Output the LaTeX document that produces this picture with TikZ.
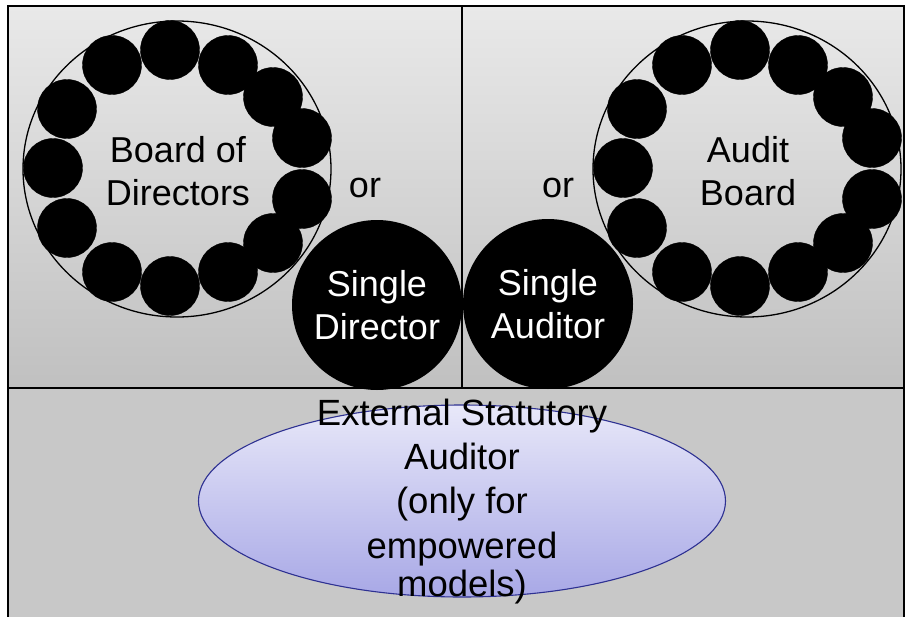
\documentclass[tikz,border=0pt]{standalone}
\usepackage{fontspec}
\setmainfont{Liberation Sans}
\usetikzlibrary{shapes.geometric}
\definecolor{ptop}{HTML}{E9E9E9}
\definecolor{pbot}{HTML}{C0C0C0}
\definecolor{bpanel}{HTML}{C8C8C8}
\definecolor{elltop}{HTML}{E8E8F9}
\definecolor{ellbot}{HTML}{A8A8E6}
\definecolor{elldraw}{HTML}{2E3192}
\tikzset{
  panel/.style={draw=black, line width=1.6pt, top color=ptop, bottom color=pbot},
  lowpanel/.style={draw=black, line width=1.6pt, fill=bpanel},
  ring/.style={draw=black, line width=1.3pt},
  member/.style={circle, fill=black, draw=black, minimum size=59pt, inner sep=0pt},
  single/.style={circle, fill=black, minimum size=170pt, inner sep=0pt, text=white, align=center, font=\fontsize{36}{43}\selectfont},
  lbl/.style={align=center, font=\fontsize{36}{43}\selectfont, inner sep=0pt},
  elbl/.style={anchor=base, inner sep=0pt, font=\fontsize{36.5}{43}\selectfont},
}
\begin{document}
\begin{tikzpicture}[x=1pt,y=-1pt]
\useasboundingbox (0,0) rectangle (905,616);
\fill[white] (0,0) rectangle (905,616);
% panels
\path[panel] (8,6) rectangle (462,388);
\path[panel] (462,6) rectangle (904,388);
\path[lowpanel] (8,388) rectangle (904,630);
% boards
\foreach \ox/\nm in {0/bod,570/ab}{
  \draw[ring] (177+\ox,169) ellipse [x radius=154, y radius=148];
  \foreach \px/\py [count=\i] in {170/50,112/65,228/65,273/97,302/138,302/199,273/243,228/272,170/286,112/272,67/228,53/168,67/109}{
    \node[member] (\nm\i) at (\px+\ox,\py) {};
  }
}
\node[lbl] (bodtxt) at (178,171) {Board of\\Directors};
\node[lbl] (abtxt) at (748,171) {Audit\\Board};
\node[lbl, anchor=base] (or1) at (365,197) {or};
\node[lbl, anchor=base] (or2) at (558,197) {or};
\node[single] (sd) at (377,305) {Single\\Director};
\node[single] (sa) at (548,304) {Single\\Auditor};
\draw[line width=1.6pt] (462,6) -- (462,388);
% external auditor
\node[ellipse, draw=elldraw, line width=1.1pt, top color=elltop, bottom color=ellbot,
      minimum width=527pt, minimum height=192pt, inner sep=0pt] (ext) at (462,501) {};
\node[elbl] (exttxt) at (462,425) {External Statutory};
\node[elbl] (exttxt2) at (462,469) {Auditor};
\node[elbl] (exttxt3) at (462,513) {(only for};
\node[elbl] (exttxt4) at (462,558) {empowered};
\node[elbl] (exttxt5) at (462,596) {models)};
\end{tikzpicture}
\end{document}
